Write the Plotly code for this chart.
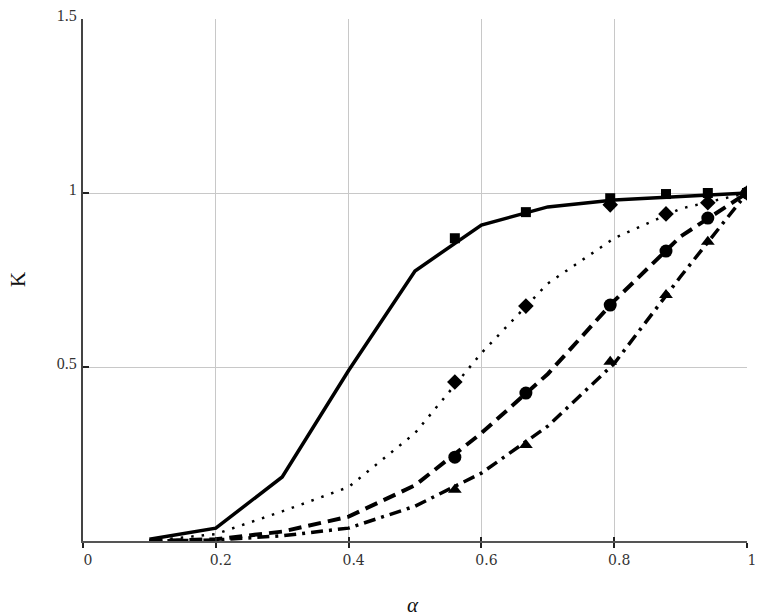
import plotly.graph_objects as go

# ---- data ----
alpha_line = [0.1, 0.2, 0.3, 0.4, 0.5, 0.6, 0.7, 0.8, 0.9, 1.0]
k_solid = [0.005, 0.037, 0.184, 0.49, 0.776, 0.908, 0.96, 0.98, 0.99, 1.0]
k_dotted = [0.0, 0.02, 0.085, 0.155, 0.31, 0.54, 0.74, 0.87, 0.955, 1.0]
k_dashed = [0.0, 0.005, 0.027, 0.07, 0.16, 0.31, 0.48, 0.69, 0.875, 1.0]
k_dashdot = [0.0, 0.003, 0.015, 0.037, 0.1, 0.195, 0.33, 0.51, 0.76, 1.0]

alpha_pts = [0.56, 0.667, 0.794, 0.878, 0.941, 1.0]
k_square = [0.87, 0.945, 0.985, 0.997, 1.0, 1.0]
k_diamond = [0.457, 0.675, 0.966, 0.94, 0.972, 1.0]
k_circle = [0.241, 0.425, 0.678, 0.833, 0.928, 1.0]
k_triangle = [0.147, 0.276, 0.515, 0.707, 0.86, 1.0]

x_ticks = [0, 0.2, 0.4, 0.6, 0.8, 1]
x_tick_text = ["0", "0.2", "0.4", "0.6", "0.8", "1"]
y_ticks = [0.5, 1, 1.5]
y_tick_text = ["0.5", "1", "1.5"]

SERIF = "Liberation Serif"
XFONT = "DejaVu Serif"

fig = go.Figure()

fig.add_trace(go.Scatter(x=alpha_line, y=k_solid, mode="lines",
                         line=dict(color="black", width=3.5)))
fig.add_trace(go.Scatter(x=alpha_line, y=k_dotted, mode="lines",
                         line=dict(color="black", width=2.5, dash="2.5px,8px")))
fig.add_trace(go.Scatter(x=alpha_line, y=k_dashed, mode="lines",
                         line=dict(color="black", width=4, dash="13px,7px")))
fig.add_trace(go.Scatter(x=alpha_line, y=k_dashdot, mode="lines",
                         line=dict(color="black", width=3.5, dash="12px,6px,3px,6px")))

fig.add_trace(go.Scatter(x=alpha_pts, y=k_square, mode="markers",
                         marker=dict(symbol="square", size=10, color="black")))
fig.add_trace(go.Scatter(x=alpha_pts, y=k_diamond, mode="markers",
                         marker=dict(symbol="diamond", size=12, color="black")))
fig.add_trace(go.Scatter(x=alpha_pts, y=k_circle, mode="markers",
                         marker=dict(symbol="circle", size=13, color="black")))
fig.add_trace(go.Scatter(x=alpha_pts, y=k_triangle, mode="markers",
                         marker=dict(symbol="triangle-up", size=12, color="black")))

# invisible trace to activate the overlaid axis for crossing ticks
fig.add_trace(go.Scatter(x=[0], y=[0], xaxis="x2", mode="markers",
                         marker=dict(opacity=0), hoverinfo="skip"))

fig.update_layout(
    width=767, height=616,
    margin=dict(l=83, r=20, t=19, b=75, autoexpand=False),
    paper_bgcolor="white", plot_bgcolor="white",
    showlegend=False,
    font=dict(family=SERIF, size=14, color="#222"),
    xaxis=dict(range=[0, 1], tickvals=x_ticks, ticktext=x_tick_text,
               showgrid=True, gridcolor="#c8c8c8", gridwidth=1,
               zeroline=False, showline=True, linecolor="#555", linewidth=2,
               ticks="outside", ticklen=5, tickwidth=1.5, tickcolor="#222",
               ticklabelshift=5, ticklabelstandoff=0, automargin=False,
               tickfont=dict(family=XFONT, size=14, color="#333")),
    xaxis2=dict(range=[0, 1], overlaying="x", matches="x", tickvals=x_ticks,
                showticklabels=False, showgrid=False, zeroline=False,
                ticks="inside", ticklen=4, tickwidth=1.5, tickcolor="#222",
                side="bottom", automargin=False),
    yaxis=dict(range=[0, 1.5], tickvals=y_ticks, ticktext=y_tick_text,
               showgrid=True, gridcolor="#c8c8c8", gridwidth=1,
               zeroline=False, showline=True, linecolor="#444", linewidth=2,
               ticks="inside", ticklen=6, tickwidth=1.5, tickcolor="#222",
               ticklabelshift=-4, ticklabelstandoff=1, automargin=False,
               tickfont=dict(family=SERIF, size=16, color="#333")),
    annotations=[
        dict(text="K", xref="paper", yref="paper", x=-0.098, y=0.502,
             xanchor="center", yanchor="middle",
             showarrow=False, textangle=-90,
             font=dict(family=SERIF, size=21, color="#111")),
        dict(text="<i>α</i>", xref="paper", yref="paper", x=0.497, y=-0.122,
             xanchor="center", yanchor="middle",
             showarrow=False, font=dict(family=SERIF, size=21, color="#111")),
    ],
)

fig.write_html(
    "out.html",
    config={"displayModeBar": False},
    post_script="document.body.style.margin='0';document.body.style.padding='0';",
)
